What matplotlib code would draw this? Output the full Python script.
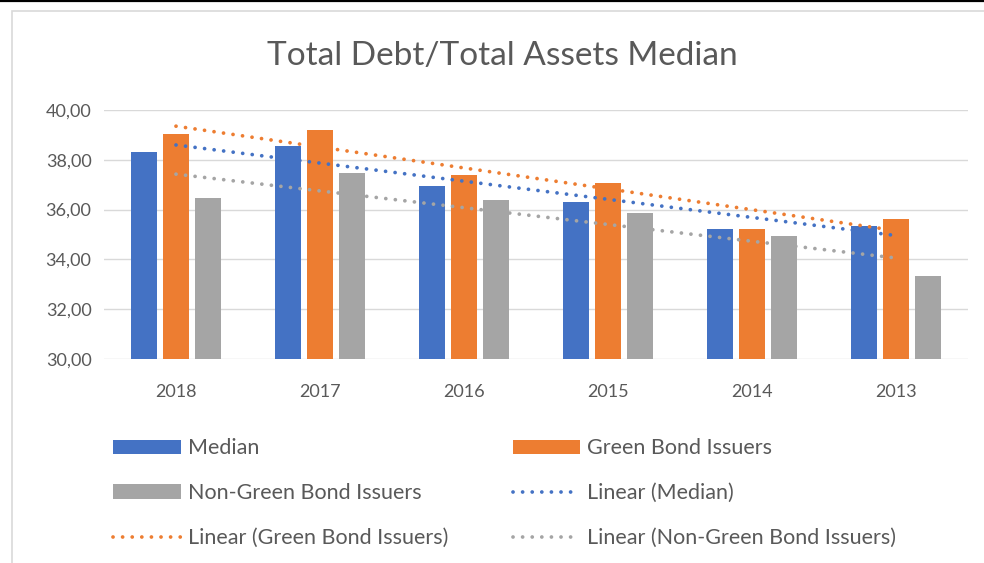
import numpy as np
import matplotlib
matplotlib.use("Agg")
import matplotlib.pyplot as plt
from matplotlib.patches import Rectangle, Patch
from matplotlib.lines import Line2D

years = ["2018", "2017", "2016", "2015", "2014", "2013"]
median = [38.30, 38.55, 36.95, 36.31, 35.21, 35.34]
green_bond = [39.02, 39.21, 37.39, 37.08, 35.21, 35.61]
non_green_bond = [36.45, 37.47, 36.37, 35.85, 34.95, 33.35]
y_ticks = [30, 32, 34, 36, 38, 40]

series = [
    ("Median", median, "#4472C4"),
    ("Green Bond Issuers", green_bond, "#ED7D31"),
    ("Non-Green Bond Issuers", non_green_bond, "#A5A5A5"),
]

plt.rcParams["font.family"] = ["Lato", "DejaVu Sans"]
text_grey = "#595959"

fig = plt.figure(figsize=(9.84, 5.63), dpi=100)
W, H = 984, 563

# chart frame and the rule above it
fig.add_artist(Rectangle((12 / W, -0.05), 1.2, 1 - 11 / H + 0.05, transform=fig.transFigure,
                         facecolor="white", edgecolor="#D9D9D9", linewidth=1.2, zorder=-5))
fig.add_artist(Line2D([0, 1], [1 - 0.8 / H, 1 - 0.8 / H], transform=fig.transFigure,
                      color="black", linewidth=1.6))

ax = fig.add_axes([104 / W, 1 - 359 / H, (968 - 104) / W, (359 - 110) / H])
x = np.arange(len(years))
offset = 0.2215
width = 0.18
for i, (name, vals, col) in enumerate(series):
    ax.bar(x + (i - 1) * offset, vals, width, color=col, zorder=2, label=name)

# linear trendlines
trend_handles = []
for name, vals, col in series:
    t = np.arange(1, len(vals) + 1)
    slope, inter = np.polyfit(t, vals, 1)
    ln, = ax.plot(x, inter + slope * t, color=col, linewidth=2.7,
                  linestyle=(0, (0.01, 2.55)), dash_capstyle="round", zorder=3,
                  label=f"Linear ({name})")
    trend_handles.append(ln)

ax.set_xlim(-0.5, len(years) - 0.5)
ax.set_ylim(30, 40)
ax.set_yticks(y_ticks)
ax.set_yticklabels([f"{v:.2f}".replace(".", ",") for v in y_ticks])
ax.set_xticks(x)
ax.set_xticklabels(years)
ax.tick_params(axis="y", length=0, pad=9, labelsize=13, labelcolor=text_grey)
ax.tick_params(axis="x", length=0, pad=18, labelsize=13, labelcolor=text_grey)
ax.grid(axis="y", color="#D9D9D9", linewidth=1.0, zorder=0)
for s in ax.spines.values():
    s.set_visible(False)
ax.set_facecolor("none")

fig.text(502 / W, 1 - 56 / H, "Total Debt/Total Assets Median", ha="center", va="center",
         fontsize=24, color=text_grey)

bar_handles = [Patch(facecolor=c, edgecolor="none") for _, _, c in series]
handles = [bar_handles[0], bar_handles[2], trend_handles[1],
           bar_handles[1], trend_handles[0], trend_handles[2]]
labels = ["Median", "Non-Green Bond Issuers", "Linear (Green Bond Issuers)",
          "Green Bond Issuers", "Linear (Median)", "Linear (Non-Green Bond Issuers)"]
leg = fig.legend(handles, labels, ncol=2, loc="upper left",
                 bbox_to_anchor=(94 / W, 1 - 419 / H), frameon=False,
                 fontsize=15.5, labelcolor=text_grey, handlelength=3.15, handleheight=0.65,
                 handletextpad=0.3, columnspacing=3.0, labelspacing=1.15)

fig.savefig("out.png", dpi=100)
